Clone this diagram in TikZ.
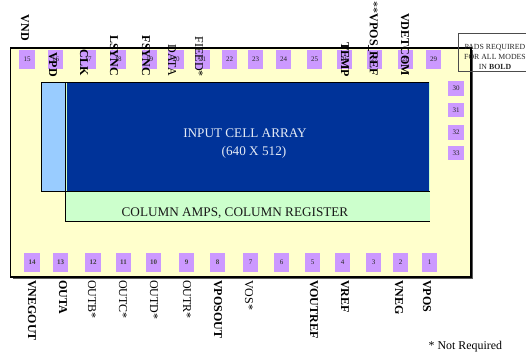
\documentclass[tikz,border=0pt]{standalone}
\usepackage{fontspec}
\setmainfont{Liberation Serif}
\definecolor{padc}{HTML}{CC99FF}
\definecolor{chip}{HTML}{FFFFCC}
\definecolor{arr}{HTML}{003399}
\definecolor{lblue}{HTML}{99CCFF}
\definecolor{lgreen}{HTML}{CCFFCC}
\tikzset{
  padbox/.style={fill=padc,inner sep=0pt},
  padnum/.style={font=\fontsize{7}{8}\selectfont,text=black!85,inner sep=0pt},
  padnumb/.style={font=\fontsize{7}{8}\selectfont\bfseries,text=black!75,inner sep=0pt},
  pinl/.style={rotate=-90,font=\fontsize{12}{13}\selectfont,inner sep=0pt},
  pinb/.style={rotate=-90,font=\fontsize{12}{13}\selectfont\bfseries,inner sep=0pt},
  bigtext/.style={font=\fontsize{13.2}{15}\selectfont,inner sep=0pt},
}
\newcommand{\pad}[5][padnum]{\node[padbox,minimum width=#4pt,minimum height=#5pt] (p#2) at (#3) {}; \node[#1] at (p#2) {#2};}
\begin{document}
\begin{tikzpicture}[x=1pt,y=-1pt]
\useasboundingbox (0,0) rectangle (526,352);
% chip with shadow
\fill[black!65] (13,50) rectangle (472.5,279);
\filldraw[draw=black,line width=1.1pt,fill=chip] (10.5,48) rectangle (471,277);
% left blue
\filldraw[draw=black,line width=.7pt,fill=lblue] (41.5,82.5) rectangle (65.5,191.5);
% green band and strip
\fill[lgreen] (65.5,82.5) rectangle (430,221);
\draw[black,line width=.7pt] (65.5,191.5) -- (65.5,221) -- (430,221);
\draw[black,line width=.7pt] (65.5,191.5) -- (430,191.5);
% array
\fill[arr] (67,82.5) rectangle (429,191.2);
\draw[black,line width=.7pt] (65.5,82.2) -- (429,82.2);
\node[text=white!90!arr,bigtext] (arrl) at (245,133.5) {INPUT CELL ARRAY};
\node[text=white!90!arr,bigtext] (arrm) at (254,152) {(640 X 512)};
\node[bigtext,text=black!90] (amp) at (235,213.5) {COLUMN AMPS, COLUMN REGISTER};
% top pads
\foreach \n/\x in {15/27,16/55.5,17/88,18/118,19/149.5,20/176,21/202.5,22/229.5,23/255.5,24/283.5,25/314.5,26/344.5,27/374.5,28/405.5,29/433.5}{
  \pad{\n}{\x,59.5}{15.5}{19}
}
\foreach \n/\y in {30/88.5,31/110,32/132.5,33/153}{
  \pad{\n}{456,\y}{16}{14.5}
}
\foreach \n/\x in {14/32,13/60.5,12/93,11/123.5,10/153.5,9/186.5,8/217.5}{
  \pad[padnumb]{\n}{\x,262.5}{15.5}{19}
}
\foreach \n/\x in {7/250.5,6/281.5,5/312.5,4/342.5,3/373.5,2/400.5,1/429.5}{
  \pad{\n}{\x,262.5}{15.5}{19}
}
% top labels
\node[pinb,anchor=east] (lvnd) at (25,41) {VND};
\node[pinb,anchor=east] (lvpd) at (53,77) {VPD};
\node[pinb,anchor=east] (lclk) at (84,76) {CLK};
\node[pinb,anchor=east] (llsync) at (114,76) {LSYNC};
\node[pinb,anchor=east] (lfsync) at (146,76) {FSYNC};
\node[pinl,anchor=east] (ldata) at (172,76) {DATA};
\node[pinl,anchor=east] (lfieed) at (199,77) {FIEED*};
\node[pinb,anchor=east] (ltemp) at (345,77) {TEMP};
\node[pinb,anchor=east] (lvposref) at (373,76) {\textmd{**}VPOS\_REF};
\node[pinb,anchor=east] (lvdet) at (405,76) {VDETCOM};
% bottom labels
\foreach \t/\x in {VNEGOUT/32,OUTA/63,VPOSOUT/218,VOUTREF/314,VREF/345,VNEG/399,VPOS/427}{
  \node[pinb,anchor=west] at (\x,280) {\t};
}
\foreach \t/\x in {OUTB*/92,OUTC*/123,OUTD*/154,OUTR*/187,VOS*/249}{
  \node[pinl,anchor=west] at (\x,280) {\t};
}
% note
\draw[black!70,line width=.7pt] (458.5,33.5) rectangle (527,71);
\node[font=\fontsize{7.8}{10}\selectfont,align=center,text=black!85,inner sep=0pt] (note) at (495,57) {PADS REQUIRED\\FOR ALL MODES\\IN \textbf{BOLD}};
\node[font=\fontsize{11.9}{13}\selectfont,anchor=west,inner sep=0pt] (nr) at (428.5,347) {* Not Required};
\end{tikzpicture}
\end{document}
